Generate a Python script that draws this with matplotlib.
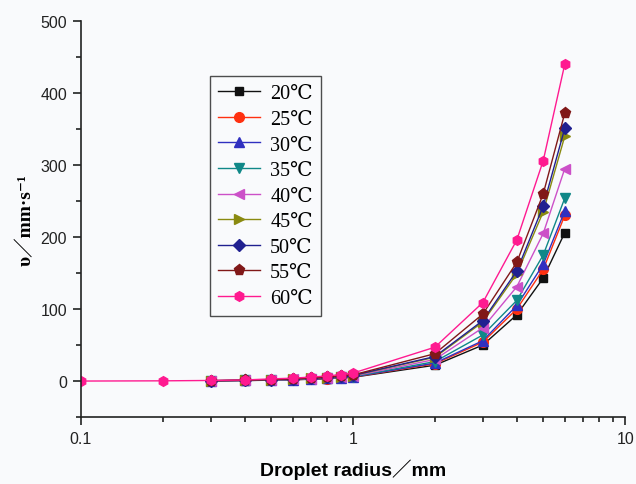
import numpy as np
import matplotlib.pyplot as plt
from matplotlib.ticker import MultipleLocator, FixedLocator, FixedFormatter

radius = [0.3, 0.4, 0.5, 0.6, 0.7, 0.8, 0.9, 1, 2, 3, 4, 5, 6]
radius_60 = [0.1, 0.2, 0.3, 0.4, 0.5, 0.6, 0.7, 0.8, 0.9, 1, 2, 3, 4, 5, 6]

labels = ['20℃', '25℃', '30℃', '35℃', '40℃', '45℃', '50℃', '55℃', '60℃']
speeds = [
    [0.3, 0.7, 1.2, 1.8, 2.5, 3.3, 4.2, 5.2, 22, 50, 92, 143, 206],
    [0.3, 0.8, 1.3, 1.9, 2.7, 3.5, 4.5, 5.6, 24, 54, 100, 155, 230],
    [0.3, 0.8, 1.3, 2.0, 2.8, 3.7, 4.7, 5.8, 25, 56, 105, 162, 236],
    [0.4, 0.9, 1.4, 2.1, 3.0, 3.9, 5.0, 6.2, 27, 64, 112, 175, 254],
    [0.4, 1.0, 1.6, 2.4, 3.3, 4.3, 5.5, 6.8, 30, 74, 131, 205, 295],
    [0.5, 1.1, 1.8, 2.7, 3.7, 4.8, 6.2, 7.6, 33, 82, 149, 235, 340],
    [0.5, 1.1, 1.9, 2.8, 3.8, 5.0, 6.4, 7.9, 34, 84, 153, 243, 351],
    [0.5, 1.2, 2.0, 3.0, 4.1, 5.4, 6.9, 8.5, 38, 93, 165, 260, 372],
    [0, 0.3, 0.8, 1.5, 3.0, 4.0, 5.5, 7.0, 9.0, 11, 47, 109, 196, 306, 440],
]
colors = ['#111111', '#ff3010', '#3030c0', '#108888', '#cc50c8',
          '#8a8a10', '#202090', '#801818', '#ff1a90']
markers = ['s', 'o', '^', 'v', '<', '>', 'D', 'p', 'h']
sizes = [6, 7, 7, 7, 7, 7, 6, 8, 7]

bg = '#f9fafc'
fig = plt.figure(figsize=(6.36, 4.85), dpi=100, facecolor=bg)
ax = fig.add_axes([0.127, 0.138, 0.856, 0.817], facecolor=bg)

for i, lab in enumerate(labels):
    xs = radius_60 if i == 8 else radius
    ax.plot(xs, speeds[i], color=colors[i], marker=markers[i], markersize=sizes[i],
            lw=1, label=lab, markeredgecolor=colors[i])

ax.set_xscale('log')
ax.set_xlim(0.1, 10)
ax.set_ylim(-50, 500)
ax.xaxis.set_major_locator(FixedLocator([0.1, 1, 10]))
ax.xaxis.set_major_formatter(FixedFormatter(['0.1', '1', '10']))
ax.xaxis.set_minor_locator(FixedLocator([k * d for d in (0.1, 1) for k in range(2, 10)]))
ax.xaxis.set_minor_formatter(FixedFormatter([]))
ax.yaxis.set_major_locator(FixedLocator([0, 100, 200, 300, 400, 500]))
ax.yaxis.set_minor_locator(MultipleLocator(50))

for s in ['top', 'right']:
    ax.spines[s].set_visible(False)
for s in ['left', 'bottom']:
    ax.spines[s].set_color('#222222')
    ax.spines[s].set_linewidth(1.2)
ax.tick_params(which='major', direction='out', length=6, width=1.2, labelsize=11.5,
               colors='#222222', pad=4)
ax.tick_params(which='minor', direction='out', length=3.5, width=1.2, colors='#222222')
for t in ax.get_xticklabels() + ax.get_yticklabels():
    t.set_family(['Liberation Sans', 'DejaVu Sans'])

ax.set_xlabel('Droplet radius／mm', fontsize=14, fontweight='bold',
              family=['Liberation Sans', 'Noto Sans CJK SC'], labelpad=9)
ax.set_ylabel('υ／mm·s⁻¹', fontsize=14, fontweight='bold',
              family=['Liberation Serif', 'DejaVu Serif', 'Noto Sans CJK SC'], labelpad=4)

leg = ax.legend(loc='upper left', bbox_to_anchor=(0.237, 0.86), frameon=True,
                fancybox=False, edgecolor='#222222', facecolor=bg,
                prop={'family': ['Liberation Serif', 'DejaVu Serif'], 'size': 14.5},
                handlelength=2.1, labelspacing=0.32, borderpad=0.4, handletextpad=0.5,
                borderaxespad=0)
leg.get_frame().set_linewidth(1.0)

fig.savefig('out.png', dpi=100, facecolor=bg)
